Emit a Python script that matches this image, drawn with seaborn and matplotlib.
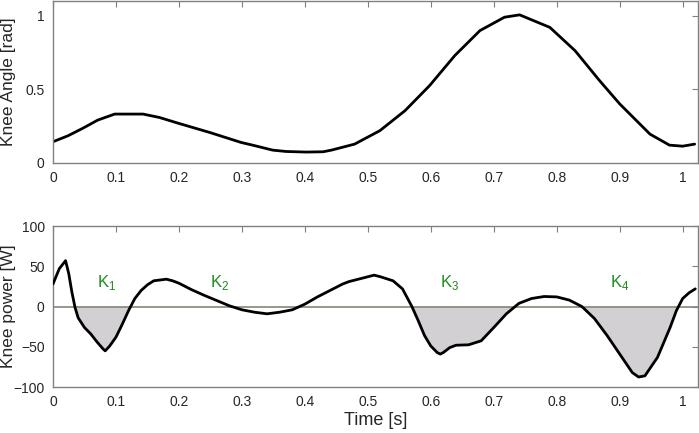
import numpy as np
import pandas as pd
import matplotlib
matplotlib.use("Agg")
import matplotlib.pyplot as plt
import seaborn as sns

# knee angle [rad]
angle_t = [0.0, 0.024, 0.048, 0.071, 0.098, 0.143, 0.169, 0.198, 0.249, 0.299,
           0.317, 0.349, 0.37, 0.402, 0.429, 0.442, 0.479, 0.519, 0.559, 0.598,
           0.638, 0.678, 0.717, 0.741, 0.789, 0.829, 0.868, 0.9, 0.948, 0.979,
           1.0, 1.019]
angle = [0.143, 0.184, 0.236, 0.29, 0.331, 0.331, 0.308, 0.27, 0.206, 0.138,
         0.12, 0.086, 0.077, 0.073, 0.075, 0.086, 0.127, 0.218, 0.354, 0.524,
         0.728, 0.898, 0.989, 1.005, 0.92, 0.762, 0.558, 0.40, 0.195, 0.12,
         0.113, 0.127]

# knee power [W]
power_t = [0.0, 0.01, 0.02, 0.025, 0.03, 0.035, 0.04, 0.05, 0.06, 0.07, 0.08, 0.083,
           0.09, 0.1, 0.11, 0.12, 0.13, 0.14, 0.15, 0.16, 0.17, 0.18, 0.19, 0.2,
           0.22, 0.24, 0.26, 0.28, 0.3, 0.32, 0.34, 0.36, 0.38, 0.4, 0.42, 0.44,
           0.46, 0.47, 0.48, 0.51, 0.52, 0.54, 0.555, 0.57, 0.58, 0.59, 0.6, 0.61,
           0.615, 0.62, 0.63, 0.64, 0.66, 0.68, 0.7, 0.72, 0.74, 0.76, 0.78, 0.8,
           0.82, 0.84, 0.86, 0.88, 0.9, 0.92, 0.93, 0.94, 0.96, 0.98, 0.99, 1.0,
           1.01, 1.02]
power = [28, 47, 57, 41, 18, -1, -14, -26, -34, -44, -53, -55,
         -49, -38, -22, -5, 10, 20, 27, 32, 33, 34, 32, 29,
         21, 14, 7.5, 1, -4, -7, -9, -7, -4, 3, 12, 20,
         28, 31, 33, 39, 37, 32, 22, 0, -17.5, -36, -49, -57,
         -59, -57, -51, -48, -47.5, -42.5, -26, -9, 4, 10, 12.5, 12,
         8, 0, -15, -36, -59, -82, -87.5, -86, -63, -26, -5, 10,
         17, 22]

phases = ["K1", "K2", "K3", "K4"]
phase_t = [0.085, 0.265, 0.63, 0.9]
phase_y = [30, 30, 30, 30]
shaded = [(0.03, 0.13), (0.565, 0.745), (0.835, 0.995)]

ang = pd.DataFrame({"t": angle_t, "v": angle})
pw = pd.DataFrame({"t": power_t, "v": power})

sns.set_style("white")
plt.rcParams["font.family"] = ["Liberation Sans", "DejaVu Sans"]

fig = plt.figure(figsize=(6.99, 4.33), dpi=100)
ax1 = fig.add_axes([0.0758, 0.624, 0.9225, 0.374])
ax2 = fig.add_axes([0.0758, 0.106, 0.9225, 0.372])

sns.lineplot(data=ang, x="t", y="v", ax=ax1, color="black", lw=2,
             solid_joinstyle="round")
ax1.set_ylim(0, 1.1)
ax1.set_yticks([0, 0.5, 1])
ax1.set_yticklabels(["0", "0.5", "1"])

ax2.axhline(0, color="#8a8478", lw=1.2, zorder=1)
tt = np.array(power_t)
vv = np.array(power)
mask = np.zeros(len(tt), dtype=bool)
for a, b in shaded:
    mask |= (tt >= a) & (tt <= b)
ax2.fill_between(tt, vv, 0, where=mask & (vv <= 0.5), interpolate=True,
                 color="#d3d0d3", lw=0, zorder=0)
sns.lineplot(data=pw, x="t", y="v", ax=ax2, color="black", lw=2, zorder=3,
             solid_joinstyle="round")
ax2.set_ylim(-100, 100)
ax2.set_yticks([-100, -50, 0, 50, 100])
for name, x, y in zip(phases, phase_t, phase_y):
    ax2.text(x, y, "K$_\\mathregular{" + name[1] + "}$", color="#1e8c1e",
             fontsize=12, ha="center", va="center")

xt = [0, 0.1, 0.2, 0.3, 0.4, 0.5, 0.6, 0.7, 0.8, 0.9, 1]
xl = ["0", "0.1", "0.2", "0.3", "0.4", "0.5", "0.6", "0.7", "0.8", "0.9", "1"]
for ax in (ax1, ax2):
    ax.set_xlim(0, 1.024)
    ax.set_xticks(xt)
    ax.set_xticklabels(xl)
    ax.tick_params(direction="in", top=True, right=True, length=4,
                   color="#808080", labelsize=10, pad=6,
                   labeltop=False, labelright=False)
    for s in ax.spines.values():
        s.set_color("#808080")
        s.set_linewidth(1)
    ax.set_xlabel("")

ax1.set_ylabel("Knee Angle [rad]", fontsize=12.5)
ax2.set_ylabel("Knee power [W]", fontsize=12.5)
ax1.yaxis.set_label_coords(-0.058, 0.5)
ax2.yaxis.set_label_coords(-0.058, 0.5)
ax2.set_xlabel("Time [s]", fontsize=13, labelpad=2)

fig.savefig("out.png", dpi=100)
